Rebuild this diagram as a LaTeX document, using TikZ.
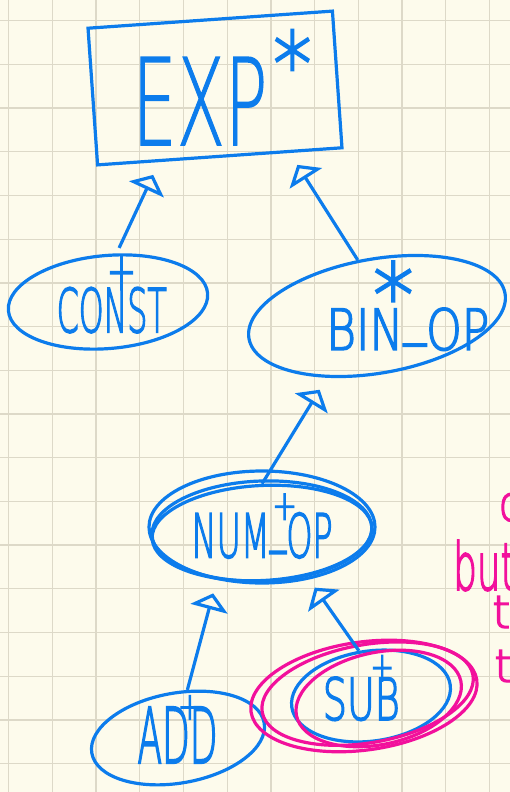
\documentclass[tikz,border=0pt]{standalone}
\usepackage{fontspec}
\usetikzlibrary{shapes.geometric,arrows.meta}
\newfontfamily\hand[FakeBold=3]{DejaVuSans-ExtraLight.ttf}
\newfontfamily\handbig[FakeBold=1.2]{DejaVuSans-ExtraLight.ttf}
\definecolor{paper}{HTML}{FDFBEC}
\definecolor{rule}{HTML}{DDD9C8}
\definecolor{ink}{HTML}{0C7CEC}
\definecolor{marker}{HTML}{F2109C}
% handwritten word: [counter tilt] x and y offset from the node centre, width, height, text
\newcommand\hw[6][0]{\smash{\makebox[0pt]{\hspace*{#2}\hspace*{#2}\raisebox{\dimexpr#3-#5/2\relax}{\rotatebox[origin=c]{#1}{\resizebox{#4}{#5}{\hand #6}}}}}}
\newcommand\us{\raisebox{0.3em}{\_}}
\tikzset{
 pen/.style={draw=ink,line width=3.2pt},
 cls/.style={pen,ellipse,inner sep=0pt,text=ink},
 absbox/.style={pen,rectangle,inner sep=0pt,text=ink},
 isa/.style={pen,-{Triangle[open,length=16pt,width=38pt]},shorten >=14pt},
 hl/.style={draw=marker,line width=3.2pt},
 note/.style={text=marker,inner sep=0pt,anchor=base west}
}
\begin{document}
\begin{tikzpicture}[x=1pt,y=-1pt]
 \clip (0,0) rectangle (510,792);
 \fill[paper] (0,0) rectangle (510,792);
 \foreach \gx in {0,...,11}
  \draw[rule,line width=1.3pt] ({8.7+43.7*\gx},0) -- ++(0,792);
 \foreach \gy in {0,...,17}
  \draw[rule,line width=1.3pt] (0,{20.7+43.7*\gy}) -- ++(510,0);

 \node[absbox,minimum width=245pt,minimum height=137pt,rotate=4] (exp) at (215,88)
  {\hw[-4]{-16pt}{-12pt}{135pt}{88pt}{\handbig EXP}\hw[-4]{79pt}{20pt}{38pt}{65pt}{*}};
 \node[cls,minimum width=200pt,minimum height=93pt,rotate=5] (const) at (108,302)
  {\hw[-5]{3pt}{-8pt}{110pt}{45pt}{CONST}\hw[-5]{16pt}{28pt}{30pt}{34pt}{+}};
 \node[cls,minimum width=260pt,minimum height=114pt,rotate=10] (binop) at (377,316)
  {\hw[-10]{28pt}{-18pt}{163pt}{42pt}{BIN\us OP}\hw[-10]{20pt}{19pt}{40pt}{65pt}{*}};
 \node[cls,minimum width=220pt,minimum height=95pt,rotate=3] (numop) at (262,533)
  {\hw[-3]{0pt}{-2pt}{141pt}{45pt}{NUM\us OP}\hw[-3]{24pt}{25pt}{25pt}{26pt}{+}};
 \node[cls,minimum width=175pt,minimum height=90pt,rotate=10] (add) at (178,738)
  {\hw[-10]{0pt}{3pt}{80pt}{56pt}{ADD}\hw[-10]{17pt}{28pt}{24pt}{24pt}{+}};
 \node[cls,minimum width=160pt,minimum height=90pt,rotate=8] (sub) at (371,696)
  {\hw[-8]{-10pt}{-1pt}{77pt}{43pt}{SUB}\hw[-8]{15pt}{26pt}{24pt}{26pt}{+}};

 % numop drawn over a few times
 \draw[pen] ([yshift=6pt]numop.center) ellipse [x radius=113pt,y radius=56pt];
 \draw[pen,rotate around={2:(numop)}] ([yshift=2pt]numop.center) ellipse [x radius=110pt,y radius=50pt];

 % marker round sub
 \draw[hl,rotate around={8:(sub)}] ([xshift=-7pt,yshift=1pt]sub.center) ellipse [x radius=114pt,y radius=54pt];
 \draw[hl,rotate around={10:(sub)}] ([xshift=-3pt,yshift=3pt]sub.center) ellipse [x radius=107pt,y radius=49pt];
 \draw[hl,rotate around={12:(sub)}] ([xshift=7pt,yshift=-4pt]sub.center) ellipse [x radius=84pt,y radius=46pt];

 \draw[isa,shorten <=6pt] (const.75) -- (exp.-131);
 \draw[isa] (binop.99) -- (exp.-45);
 \draw[isa] (numop.87) -- (binop.-139);
 \draw[isa] (add.69) -- (numop.-137);
 \draw[isa] (sub.97) -- (numop.-47);

 \node[note] (n1) at (499,521) {\resizebox{22pt}{28pt}{\hand c}};
 \node[note] (n2) at (453,590) {\resizebox{62pt}{50pt}{\hand but}};
 \node[note] (n3) at (492,628) {\resizebox{18pt}{32pt}{\hand t}};
 \node[note] (n4) at (494,682) {\resizebox{18pt}{32pt}{\hand t}};
\end{tikzpicture}
\end{document}
